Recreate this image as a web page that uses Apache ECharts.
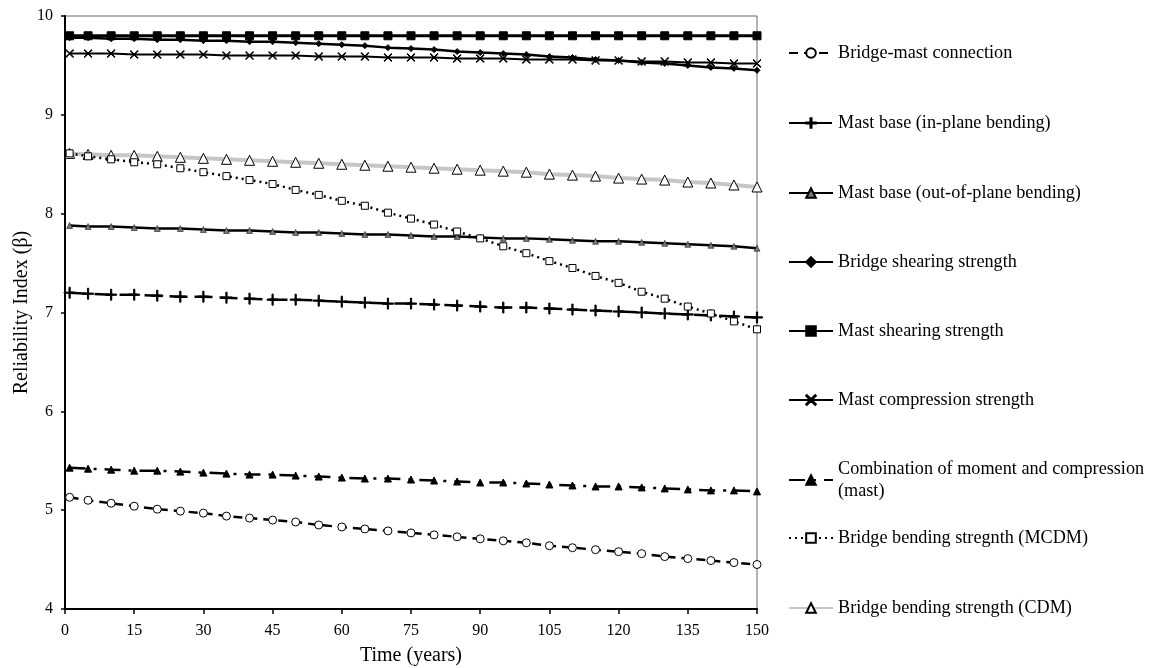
<!DOCTYPE html>
<html lang="en">
<head>
    <meta charset="utf-8">
    <title>Reliability index</title>
    <script src="https://cdn.jsdelivr.net/npm/echarts@6/dist/echarts.min.js"></script>
</head>
<body style="margin:0;background:#fff;">
<div id="main" style="width:1151px;height:668px;"></div>

<script type="text/javascript">
    // time (years) of each point
    var years = [1, 5, 10, 15, 20, 25, 30, 35, 40, 45, 50, 55, 60, 65, 70, 75,
        80, 85, 90, 95, 100, 105, 110, 115, 120, 125, 130, 135, 140, 145, 150];

    var bridgeMast = [5.13, 5.10, 5.07, 5.04, 5.01, 4.99, 4.97, 4.94, 4.92, 4.90, 4.88, 4.85, 4.83, 4.81, 4.79, 4.77,
        4.75, 4.73, 4.71, 4.69, 4.67, 4.64, 4.62, 4.60, 4.58, 4.56, 4.53, 4.51, 4.49, 4.47, 4.45];
    var mastInPlane = [7.20, 7.19, 7.18, 7.18, 7.17, 7.16, 7.16, 7.15, 7.14, 7.13, 7.13, 7.12, 7.11, 7.10, 7.09, 7.09,
        7.08, 7.07, 7.06, 7.05, 7.05, 7.04, 7.03, 7.02, 7.01, 7.00, 6.99, 6.98, 6.97, 6.96, 6.95];
    var mastOutPlane = [7.88, 7.87, 7.87, 7.86, 7.85, 7.85, 7.84, 7.83, 7.83, 7.82, 7.81, 7.81, 7.80, 7.79, 7.79, 7.78,
        7.77, 7.77, 7.76, 7.75, 7.75, 7.74, 7.73, 7.72, 7.72, 7.71, 7.70, 7.69, 7.68, 7.67, 7.65];
    var bridgeShear = [9.78, 9.78, 9.77, 9.77, 9.76, 9.76, 9.75, 9.75, 9.74, 9.74, 9.73, 9.72, 9.71, 9.70, 9.68, 9.67,
        9.66, 9.64, 9.63, 9.62, 9.61, 9.59, 9.58, 9.56, 9.55, 9.53, 9.52, 9.50, 9.48, 9.47, 9.45];
    var mastShear = [9.80, 9.80, 9.80, 9.80, 9.80, 9.80, 9.80, 9.80, 9.80, 9.80, 9.80, 9.80, 9.80, 9.80, 9.80, 9.80,
        9.80, 9.80, 9.80, 9.80, 9.80, 9.80, 9.80, 9.80, 9.80, 9.80, 9.80, 9.80, 9.80, 9.80, 9.80];
    var mastCompr = [9.62, 9.62, 9.62, 9.61, 9.61, 9.61, 9.61, 9.60, 9.60, 9.60, 9.60, 9.59, 9.59, 9.59, 9.58, 9.58,
        9.58, 9.57, 9.57, 9.57, 9.56, 9.56, 9.56, 9.55, 9.55, 9.54, 9.54, 9.53, 9.53, 9.52, 9.52];
    var combination = [5.43, 5.42, 5.41, 5.40, 5.40, 5.39, 5.38, 5.37, 5.36, 5.36, 5.35, 5.34, 5.33, 5.32, 5.32, 5.31,
        5.30, 5.29, 5.28, 5.28, 5.27, 5.26, 5.25, 5.24, 5.24, 5.23, 5.22, 5.21, 5.20, 5.20, 5.19];
    var bendMCDM = [8.61, 8.58, 8.55, 8.52, 8.50, 8.46, 8.42, 8.38, 8.34, 8.30, 8.24, 8.19, 8.13, 8.08, 8.01, 7.95,
        7.89, 7.82, 7.75, 7.67, 7.60, 7.52, 7.45, 7.37, 7.30, 7.21, 7.14, 7.06, 6.99, 6.91, 6.83];
    var bendCDM = [8.61, 8.60, 8.59, 8.59, 8.58, 8.57, 8.56, 8.55, 8.54, 8.53, 8.52, 8.51, 8.50, 8.49, 8.48, 8.47,
        8.46, 8.45, 8.44, 8.43, 8.42, 8.40, 8.39, 8.38, 8.36, 8.35, 8.34, 8.32, 8.31, 8.29, 8.27];

    var names = [
        'Bridge-mast connection',
        'Mast base (in-plane bending)',
        'Mast base (out-of-plane bending)',
        'Bridge shearing strength',
        'Mast shearing strength',
        'Mast compression strength',
        'Combination of moment and compression\n(mast)',
        'Bridge bending stregnth (MCDM)',
        'Bridge bending strength (CDM)'
    ];
    var legendY = [53, 123, 193, 262, 331, 400, 469, 538, 608];

    var plusPath = 'path://M4.45,0 h1.1 v4.45 h4.45 v1.1 h-4.45 v4.45 h-1.1 v-4.45 h-4.45 v-1.1 h4.45 z';
    var crossPath = 'path://M0.7,0 L5,4.3 L9.3,0 L10,0.7 L5.7,5 L10,9.3 L9.3,10 L5,5.7 L0.7,10 L0,9.3 L4.3,5 L0,0.7 z';

    function pairs(vals) {
        return vals.map(function (v, i) { return [years[i], v]; });
    }

    var font = 'Liberation Serif';
    var myChart = echarts.init(document.getElementById('main'));

    var legends = names.map(function (n, i) {
        return {
            data: [n],
            left: 788,
            top: legendY[i] - 11,
            padding: 0,
            itemWidth: 44,
            itemHeight: 12,
            selectedMode: false,
            textStyle: {fontFamily: font, fontSize: 18.2, color: '#000', lineHeight: 22}
        };
    });

    function line(name, data, opt) {
        return echarts.util.merge({
            name: name,
            type: 'line',
            data: pairs(data),
            showSymbol: true,
            animation: false,
            color: '#000',
            itemStyle: {color: '#000', borderColor: '#000', borderWidth: 1},
            lineStyle: {color: '#000', width: 2.5}
        }, opt, true);
    }

    var option = {
        backgroundColor: '#fff',
        legend: legends,
        grid: {
            left: 65, right: 394, top: 16, bottom: 59,
            outerBoundsMode: 'none', containLabel: false,
            show: true, borderColor: '#666', borderWidth: 1
        },
        xAxis: {
            type: 'value', min: 0, max: 150, interval: 15,
            name: 'Time (years)', nameLocation: 'middle', nameGap: 37,
            nameTextStyle: {fontFamily: font, fontSize: 20, color: '#000'},
            axisLine: {lineStyle: {color: '#000', width: 2}},
            axisTick: {inside: false, length: 5, lineStyle: {color: '#000', width: 1.5}},
            axisLabel: {fontFamily: font, fontSize: 16, color: '#000', margin: 14},
            splitLine: {show: false}
        },
        yAxis: {
            type: 'value', min: 4, max: 10, interval: 1,
            name: 'Reliability Index (β)', nameLocation: 'middle', nameGap: 33,
            nameMoveOverlap: false,
            nameTextStyle: {fontFamily: font, fontSize: 20, color: '#000'},
            axisLine: {show: true, lineStyle: {color: '#000', width: 2}},
            axisTick: {show: true, inside: false, length: 4, lineStyle: {color: '#000', width: 1.5}},
            axisLabel: {fontFamily: font, fontSize: 16, color: '#000', margin: 12},
            splitLine: {show: false}
        },
        series: [
            line(names[8], bendCDM, {
                symbol: 'triangle', symbolSize: 10, z: 2,
                itemStyle: {color: '#fff', borderColor: '#000', borderWidth: 1},
                lineStyle: {color: '#c6c6c6', width: 4}
            }),
            line(names[0], bridgeMast, {
                symbol: 'circle', symbolSize: 8,
                itemStyle: {color: '#fff', borderColor: '#000', borderWidth: 1},
                lineStyle: {type: [9, 6], width: 2.5}
            }),
            line(names[1], mastInPlane, {
                symbol: plusPath, symbolSize: 11,
                lineStyle: {type: [18, 7], width: 2.5}
            }),
            line(names[2], mastOutPlane, {
                symbol: 'triangle', symbolSize: 6,
                itemStyle: {color: '#777', borderColor: '#000', borderWidth: 0.5},
                lineStyle: {width: 2.5}
            }),
            line(names[3], bridgeShear, {
                symbol: 'diamond', symbolSize: 6,
                lineStyle: {width: 2.5}
            }),
            line(names[4], mastShear, {
                symbol: 'rect', symbolSize: 8,
                lineStyle: {width: 3}
            }),
            line(names[5], mastCompr, {
                symbol: crossPath, symbolSize: 8,
                lineStyle: {width: 2}
            }),
            line(names[6], combination, {
                symbol: 'triangle', symbolSize: 7,
                lineStyle: {type: [16, 8, 3, 8], width: 2.5}
            }),
            line(names[7], bendMCDM, {
                symbol: 'rect', symbolSize: 7,
                itemStyle: {color: '#fff', borderColor: '#000', borderWidth: 1},
                lineStyle: {type: [2, 4], width: 2.5}
            })
        ]
    };

    myChart.setOption(option);
</script>

</body>
</html>
